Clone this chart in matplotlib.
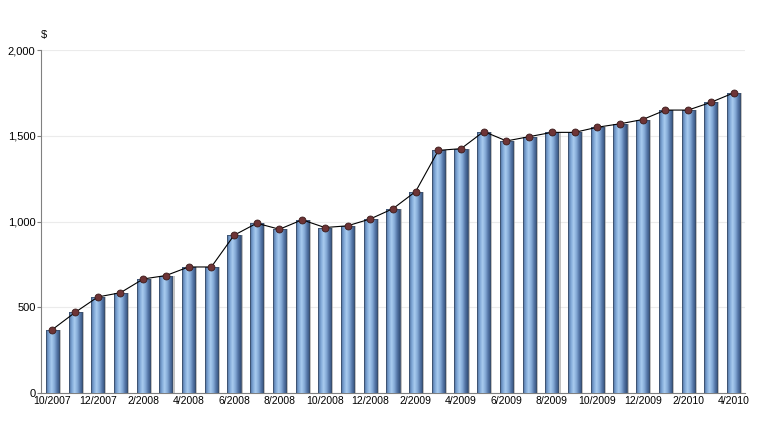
import numpy as np
import matplotlib.pyplot as plt
from matplotlib.colors import LinearSegmentedColormap

months = ["10/2007", "11/2007", "12/2007", "1/2008", "2/2008", "3/2008", "4/2008",
          "5/2008", "6/2008", "7/2008", "8/2008", "9/2008", "10/2008", "11/2008",
          "12/2008", "1/2009", "2/2009", "3/2009", "4/2009", "5/2009", "6/2009",
          "7/2009", "8/2009", "9/2009", "10/2009", "11/2009", "12/2009", "1/2010",
          "2/2010", "3/2010", "4/2010"]
values = [370, 470, 560, 585, 665, 685, 735, 735, 920, 990, 955, 1010, 965, 975,
          1015, 1075, 1175, 1415, 1425, 1525, 1470, 1495, 1520, 1520, 1550, 1570,
          1595, 1650, 1650, 1695, 1750]

plt.rcParams["font.family"] = ["Liberation Sans", "DejaVu Sans"]

bar_cmap = LinearSegmentedColormap.from_list(
    "cyl", ["#4a6a98", "#7ea6d6", "#a9cbef", "#86acd8", "#5577a8", "#34507a"])

fig = plt.figure(figsize=(7.64, 4.47), dpi=100)
ax = fig.add_axes([0.0537, 0.1208, 0.9213, 0.7672])

xs = np.arange(len(values))
w = 0.58

# shadow behind bars
ax.bar(xs + 0.09, values, width=w, color="#9a9a9a", alpha=0.6, zorder=2)

bars = ax.bar(xs, values, width=w, color="none", edgecolor="#3b4f6b", linewidth=0.6, zorder=4)
grad = np.linspace(0, 1, 64).reshape(1, -1)
for b in bars:
    x0, y0 = b.get_x(), b.get_y()
    im = ax.imshow(grad, cmap=bar_cmap, aspect="auto", zorder=3,
                   extent=[x0, x0 + b.get_width(), y0, y0 + b.get_height()])
    im.set_clip_path(b)

ax.plot(xs, values, color="black", linewidth=0.8, zorder=5)
ax.plot(xs, values, "o", color="#6e3436", markeredgecolor="#3a1a1a",
        markersize=5, markeredgewidth=0.6, zorder=6)

ax.set_xlim(-0.5, len(values) - 0.5)
ax.set_ylim(0, 2000)
ax.set_yticks([0, 500, 1000, 1500, 2000])
ax.set_yticklabels(["0", "500", "1,000", "1,500", "2,000"])
ax.set_xticks(xs[::2])
ax.set_xticklabels(months[::2])
ax.tick_params(axis="both", labelsize=8, length=3, color="#808080", pad=1)
ax.tick_params(axis="x", length=0, pad=2, labelsize=7.5)
ax.grid(axis="y", color="#ebebeb", linewidth=0.8, zorder=0)
ax.set_axisbelow(True)

for s in ["top", "right"]:
    ax.spines[s].set_visible(False)
ax.spines["left"].set_color("#808080")
ax.spines["bottom"].set_color("#808080")

fig.text(0.054, 0.915, "$", fontsize=8)

fig.savefig("out.png", dpi=100)
